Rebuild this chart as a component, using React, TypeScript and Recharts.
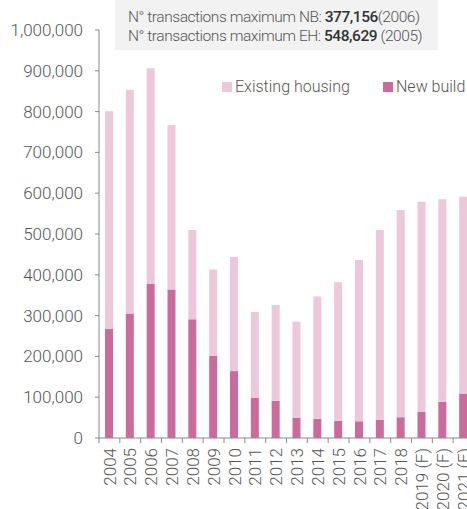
import React from 'react';
import { BarChart, Bar, XAxis, YAxis, Legend } from 'recharts';

const years = ['2004', '2005', '2006', '2007', '2008', '2009', '2010', '2011', '2012', '2013', '2014', '2015', '2016', '2017', '2018', '2019 (F)', '2020 (F)', '2021 (F)'];
const newBuild = [267000, 305000, 377156, 364000, 291000, 201000, 164000, 98000, 91000, 50000, 47000, 42000, 41000, 45000, 51000, 64000, 89000, 109000];
const existingHousing = [534000, 548629, 529000, 403000, 219000, 212000, 280000, 211000, 235000, 235000, 300000, 340000, 395000, 465000, 508000, 515000, 496000, 482000];
const yTicks = [0, 100000, 200000, 300000, 400000, 500000, 600000, 700000, 800000, 900000, 1000000];

const DARK = '#c96c9c';
const LIGHT = '#edc8da';
const AXIS = '#8a8a8a';
const TEXT = '#555555';
const FONT = 'Roboto, "Liberation Sans", Arial, sans-serif';

const CHART_W = 474;
const CHART_H = 509;
const AXIS_W = 99;
const BAND = (CHART_W - AXIS_W) / years.length;

const data = years.map((year, i) => ({
  year,
  newBuild: newBuild[i],
  existing: existingHousing[i],
}));

function XTick(props: any) {
  const { x, y, payload } = props;
  const axisY = y - 9;
  return (
    <g>
      <line x1={x - BAND / 2} x2={x - BAND / 2} y1={axisY} y2={axisY + 5} stroke={AXIS} />
      <text
        x={x}
        y={y + 1}
        transform={`rotate(-90, ${x}, ${y + 1})`}
        textAnchor="end"
        dy="0.36em"
        fill={TEXT}
        fontSize={17}
        fontWeight={300}
        fontFamily={FONT}
      >
        {payload.value}
      </text>
    </g>
  );
}

const legendItems = [
  { label: 'Existing housing', color: LIGHT, left: 0 },
  { label: 'New build', color: DARK, left: 161 },
];

function LegendContent() {
  return (
    <div style={{ position: 'relative', height: 20, fontFamily: FONT, fontSize: 16, fontWeight: 300, color: TEXT, whiteSpace: 'nowrap' }}>
      {legendItems.map((item) => (
        <div key={item.label} style={{ position: 'absolute', left: item.left, top: 0, display: 'flex', alignItems: 'center' }}>
          <span style={{ display: 'inline-block', width: 10, height: 10, background: item.color, marginRight: 3 }} />
          {item.label}
        </div>
      ))}
    </div>
  );
}

export default function App() {
  return (
    <div style={{ position: 'fixed', left: 0, top: 0, width: 467, height: 509, overflow: 'hidden', background: '#fff' }}>
      <div
        style={{
          position: 'absolute',
          left: 115,
          top: 0,
          width: 323,
          height: 50,
          background: '#f2f2f2',
          fontFamily: FONT,
          fontSize: 15.5,
          fontWeight: 300,
          color: TEXT,
          letterSpacing: -0.45,
          lineHeight: '19px',
          paddingLeft: 13,
          paddingTop: 8,
          boxSizing: 'border-box',
          whiteSpace: 'nowrap',
        }}
      >
        <div>
          N° transactions maximum NB: <span style={{ color: '#333', fontWeight: 500 }}>377,156</span>(2006)
        </div>
        <div>
          N° transactions maximum EH: <span style={{ color: '#333', fontWeight: 500 }}>548,629</span> (2005)
        </div>
      </div>
      <BarChart
        width={CHART_W}
        height={CHART_H}
        data={data}
        margin={{ top: 30, right: 0, bottom: 0, left: 0 }}
        barSize={8}
        style={{ position: 'absolute', left: 0, top: 0 }}
      >
        <XAxis
          dataKey="year"
          interval={0}
          height={71}
          axisLine={{ stroke: AXIS }}
          tickLine={false}
          tickSize={5}
          tickMargin={4}
          tick={<XTick />}
        />
        <YAxis
          width={AXIS_W}
          domain={[0, 1000000]}
          ticks={yTicks}
          interval={0}
          axisLine={{ stroke: AXIS }}
          tickLine={{ stroke: AXIS }}
          tickSize={4}
          tickMargin={12}
          tick={{ fill: TEXT, fontSize: 17, fontWeight: 300, fontFamily: FONT }}
          tickFormatter={(v: number) => v.toLocaleString('en-US')}
        />
        <Legend
          verticalAlign="middle"
          align="center"
          content={<LegendContent />}
          wrapperStyle={{ position: 'absolute', top: 77, left: 222, width: 245 }}
        />
        <Bar dataKey="newBuild" name="New build" stackId="a" fill={DARK} isAnimationActive={false} />
        <Bar dataKey="existing" name="Existing housing" stackId="a" fill={LIGHT} isAnimationActive={false} />
      </BarChart>
    </div>
  );
}
